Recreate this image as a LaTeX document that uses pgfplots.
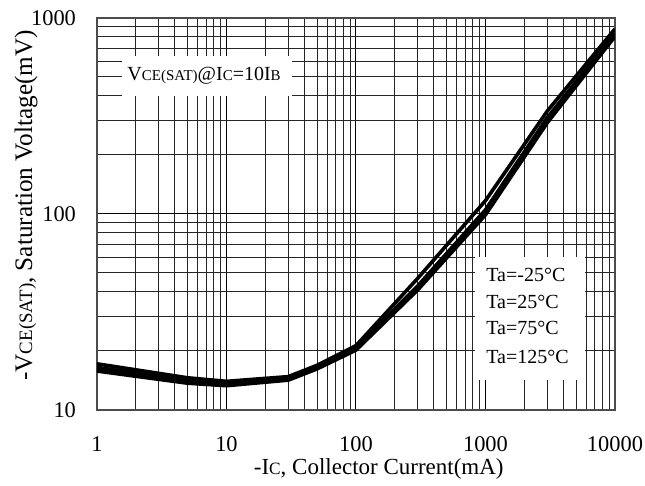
\documentclass[border=0pt]{standalone}
\usepackage{fontspec}
\setmainfont{Liberation Serif}
\usepackage{pgfplots}
\pgfplotsset{compat=1.18}
\newcommand{\sub}[1]{\scalebox{0.75}{#1}}
\begin{document}
\begin{tikzpicture}
\useasboundingbox (-48.5pt,-38pt) rectangle (274pt,205pt);
\begin{axis}[
  scale only axis, width=259pt, height=196pt,
  xmode=log, ymode=log,
  xmin=1, xmax=10000, ymin=10, ymax=1000,
  xtick={1,10,100,1000,10000}, xticklabels={1,10,100,1000,10000},
  ytick={10,100,1000}, yticklabels={10,100,1000},
  minor xtick={2,3,4,5,6,7,8,9,20,30,40,50,60,70,80,90,200,300,400,500,600,700,800,900,2000,3000,4000,5000,6000,7000,8000,9000},
  minor ytick={20,30,40,50,60,70,80,90,200,300,400,500,600,700,800,900},
  grid=both,
  major grid style={black, line width=0.5pt},
  minor grid style={black!85, line width=0.5pt},
  major tick length=0pt, minor tick length=0pt,
  axis line style={black!70, line width=0.8pt},
  xticklabel style={font=\fontsize{11.2}{13}\selectfont, anchor=north, yshift=-10pt},
  yticklabel style={font=\fontsize{11.2}{13}\selectfont, anchor=east, xshift=-7pt},
  xlabel={-I\sub{C}, Collector Current(mA)},
  ylabel={-V\sub{CE(SAT)}, Saturation Voltage(mV)},
  xlabel style={font=\fontsize{11.5}{13}\selectfont, at={(axis description cs:0.544,-0.15)}, anchor=center},
  ylabel style={font=\fontsize{12.6}{14}\selectfont, at={(axis description cs:-0.137,0.522)}, anchor=center},
]
\addplot[black, line width=1.8pt, line join=round] coordinates {
(1,15.8) (5,13.7) (10,13.3) (30,14.2) (50,16.2) (100,20.2) (300,41.0) (1000,99) (3000,292) (10000,805)};
\addplot[black, line width=1.8pt, line join=round] coordinates {
(1,16.1) (5,13.9) (10,13.5) (30,14.4) (50,16.4) (100,20.5) (300,42.0) (1000,102) (3000,300) (10000,820)};
\addplot[black, line width=1.8pt, line join=round] coordinates {
(1,16.5) (5,14.2) (10,13.7) (30,14.6) (50,16.6) (100,20.8) (300,43.0) (1000,105) (3000,310) (10000,835)};
\addplot[black, line width=1.8pt, line join=round] coordinates {
(1,17.2) (5,14.6) (10,14.0) (30,14.8) (50,16.9) (100,21.3) (300,47.0) (1000,117) (3000,335) (10000,880)};
\fill[white] (rel axis cs:0.048,0.801) rectangle (rel axis cs:0.376,0.903);
\node[anchor=west, inner sep=0pt, font=\fontsize{10}{12}\selectfont] at (rel axis cs:0.058,0.852) {V\sub{CE(SAT)}@I\sub{C}=10I\sub{B}};
\fill[white] (rel axis cs:0.730,0.0765) rectangle (rel axis cs:0.942,0.390);
\node[anchor=west, inner sep=0pt, font=\fontsize{10}{12}\selectfont] at (rel axis cs:0.751,0.344) {Ta=-25°C};
\node[anchor=west, inner sep=0pt, font=\fontsize{10}{12}\selectfont] at (rel axis cs:0.751,0.276) {Ta=25°C};
\node[anchor=west, inner sep=0pt, font=\fontsize{10}{12}\selectfont] at (rel axis cs:0.751,0.209) {Ta=75°C};
\node[anchor=west, inner sep=0pt, font=\fontsize{10}{12}\selectfont] at (rel axis cs:0.751,0.135) {Ta=125°C};
\end{axis}
\end{tikzpicture}
\end{document}
